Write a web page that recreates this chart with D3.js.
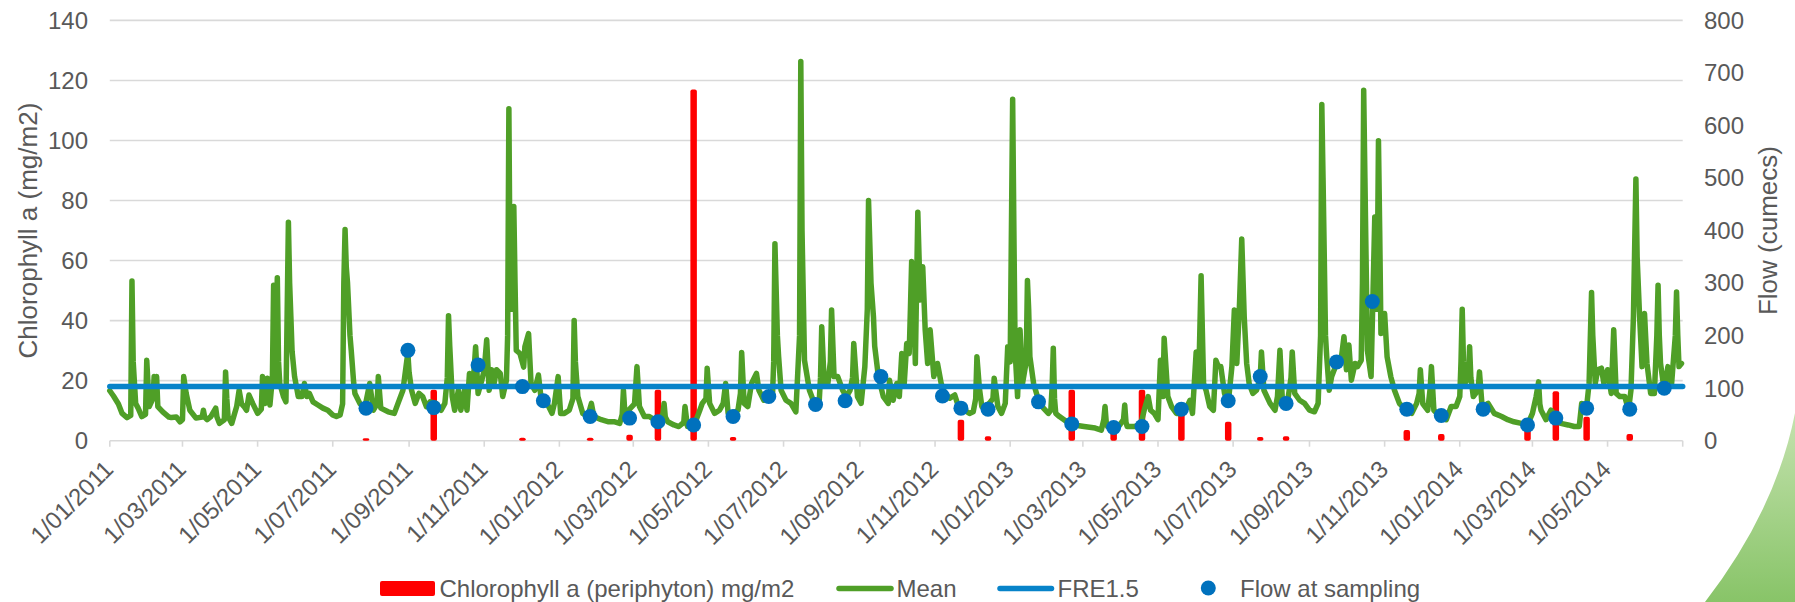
<!DOCTYPE html>
<html>
<head>
<meta charset="utf-8">
<script src="https://cdn.jsdelivr.net/npm/d3@7"></script>
<style>
  body { margin: 0; background: #fff; }
  svg { display: block; }
  text { font-family: "Liberation Sans", Arial, sans-serif; fill: #595959; }
</style>
</head>
<body>
<svg id="chart" width="1795" height="602"></svg>
<script>
// Daily mean flow record, as days since 1/01/2011 and flow (cumecs)
const recordStart = "2011-01-01";
const recordEnd = "2014-07-01";
const meanDay = [0,3,7,10,14,17,18,19,21,23,26,29,30,32,35,36,37,38,39,43,48,50,54,57,59,60,62,65,70,75,76,77,79,82,86,87,89,93,94,95,96,99,103,105,107,109,111,113,116,120,123,124,126,128,130,132,133,134,136,137,138,141,143,145,146,147,148,150,153,156,158,160,162,165,169,173,177,181,184,187,189,190,191,192,193,195,196,198,199,203,207,211,214,217,218,220,226,231,234,238,241,242,243,245,248,251,254,257,260,265,269,272,274,275,276,278,280,283,285,288,290,292,295,297,299,302,304,306,308,310,312,314,317,319,322,323,324,325,326,327,328,329,330,333,336,337,340,342,345,348,350,355,359,361,364,366,369,373,376,377,378,380,384,388,391,393,399,405,410,414,416,417,418,420,422,426,428,430,434,438,442,446,449,450,451,453,458,462,466,467,469,475,479,481,484,485,487,491,495,498,500,502,506,510,512,513,515,518,521,525,527,531,534,538,539,540,542,543,545,549,553,557,560,561,562,564,568,572,576,577,578,580,583,585,586,588,591,595,598,601,603,604,607,610,613,615,616,618,620,621,624,628,632,633,636,639,641,643,645,647,649,650,651,653,654,656,657,658,660,662,664,666,669,672,675,678,682,686,689,694,698,701,703,704,706,708,710,714,717,718,721,724,727,729,731,733,734,735,737,739,741,744,745,746,747,750,754,758,762,764,765,766,767,768,771,777,783,791,800,805,807,808,809,810,816,820,823,824,825,826,832,837,840,843,845,848,851,853,855,856,859,862,866,870,874,877,879,882,884,886,888,890,893,896,898,900,902,905,908,911,913,915,917,919,921,923,925,928,931,934,935,937,942,946,948,950,952,956,959,960,962,966,970,974,978,981,983,984,985,987,988,990,992,996,1000,1002,1004,1006,1008,1011,1013,1016,1017,1018,1019,1021,1024,1027,1028,1029,1030,1031,1032,1035,1037,1040,1043,1047,1051,1057,1061,1063,1064,1066,1070,1072,1073,1075,1080,1085,1089,1093,1096,1097,1098,1099,1100,1103,1104,1105,1107,1109,1111,1112,1114,1115,1119,1124,1130,1135,1140,1146,1151,1155,1158,1160,1161,1162,1166,1170,1174,1178,1184,1189,1193,1195,1199,1201,1203,1204,1206,1208,1211,1213,1216,1219,1221,1223,1226,1230,1233,1235,1237,1239,1240,1242,1244,1246,1248,1251,1254,1256,1257,1258,1259,1262,1265,1268,1271,1272,1273,1274,1276];
const meanFlow = [95,85,70,52,44,48,304,150,71,62,46,50,153,65,80,122,90,122,65,55,45,44,45,36,40,122,90,58,43,45,58,45,40,46,62,45,33,40,131,80,46,33,65,96,70,65,58,87,71,52,60,122,71,119,68,120,296,109,310,150,109,84,74,416,300,236,170,122,84,84,109,84,90,74,68,62,58,49,46,49,70,300,402,330,300,200,172,110,90,71,62,109,58,70,122,62,55,52,71,96,150,166,130,96,71,90,84,65,74,71,58,71,120,238,180,84,58,96,58,96,58,128,109,179,90,115,135,192,96,135,109,135,128,84,115,200,632,300,250,380,446,300,172,166,140,179,204,109,96,125,84,71,52,71,122,52,52,58,80,229,150,84,52,46,71,46,40,36,36,33,50,96,60,46,60,70,141,65,46,46,40,40,50,71,45,36,30,27,35,65,27,33,58,71,80,138,71,52,58,71,109,52,52,58,90,168,71,65,109,128,96,77,84,84,150,375,200,160,96,77,71,55,200,722,400,153,96,71,77,120,217,109,109,150,249,122,122,96,84,96,120,185,84,71,141,250,457,300,236,180,122,84,71,115,77,109,84,166,109,185,166,250,341,236,147,435,350,268,331,211,147,211,122,147,109,90,81,87,65,58,52,55,80,160,100,65,65,71,80,119,65,52,71,179,150,650,400,172,84,211,109,150,305,250,160,109,77,62,52,58,100,176,80,52,46,36,30,27,24,20,40,65,35,27,27,30,40,68,35,27,27,30,60,84,58,52,40,153,84,195,84,65,52,52,62,77,52,169,109,314,109,96,65,58,153,141,141,90,71,141,249,147,249,384,236,147,109,90,96,120,169,96,71,58,84,172,77,71,120,169,90,77,71,58,55,71,200,640,500,200,160,96,122,147,160,198,135,182,115,147,141,153,300,667,500,172,122,426,250,300,571,400,204,242,160,122,96,71,62,52,71,90,135,70,58,100,141,58,46,40,65,65,84,150,250,150,109,120,179,120,84,90,100,131,70,65,71,52,46,40,36,33,30,52,84,112,70,58,40,58,46,33,30,27,27,71,65,109,282,200,109,135,138,109,135,90,211,90,84,84,58,96,236,498,350,236,141,242,147,90,90,200,296,200,147,96,141,109,200,283,200,141,147];

// Periphyton sampling visits
const sampleDates = ["2011-07-28","2011-08-31","2011-09-21","2011-10-27","2011-12-02","2011-12-19","2012-01-26","2012-02-27","2012-03-21","2012-04-19","2012-05-21","2012-06-19","2012-07-27","2012-08-20","2012-09-18","2012-11-07","2012-11-22","2012-12-14","2013-01-24","2013-02-20","2013-03-26","2013-04-18","2013-05-20","2013-06-27","2013-07-23","2013-08-13","2013-09-23","2013-10-22","2013-11-19","2013-12-17","2014-01-20","2014-02-25","2014-03-20","2014-04-14","2014-05-19","2014-06-16"];
const sampleFlow = [62,172,63,144,103,76,46,43,36,30,46,84,69,76,122,85,62,60,74,32,25,27,60,76,122,71,150,265,60,48,60,30,43,62,60,100];
const chlorophyll = [0.8,null,17,null,1,null,1,2,17,117,1.2,null,null,null,null,null,7,1.5,null,17,5,17,10,6.3,1.2,1.5,null,null,3.6,2.2,null,5,16.5,8,2.2,null];

// Flow threshold (FRE1.5), cumecs
const fre15 = 103;

const leftTicks = [0,20,40,60,80,100,120,140];
const rightTicks = [0,100,200,300,400,500,600,700,800];
const leftTitle = "Chlorophyll a (mg/m2)";
const rightTitle = "Flow (cumecs)";
const seriesNames = ["Chlorophyll a (periphyton) mg/m2", "Mean", "FRE1.5", "Flow at sampling"];

const colors = { chl: "#ff0000", mean: "#4f9f27", fre: "#0783c9", dot: "#0071bd", grid: "#d9d9d9" };
const fontSize = 24;

const svg = d3.select("#chart");
const plot = { left: 109.8, right: 1682.7, top: 20.4, bottom: 440.7 };

const parse = d3.timeParse("%Y-%m-%d");
const t0 = parse(recordStart), t1 = parse(recordEnd);

const x = d3.scaleTime().domain([t0, t1]).range([plot.left, plot.right]);
const yL = d3.scaleLinear().domain([0, 140]).range([plot.bottom, plot.top]);
const yR = d3.scaleLinear().domain([0, 800]).range([plot.bottom, plot.top]);

// decorative wedge, bottom-right corner
const defs = svg.append("defs");
const grad = defs.append("linearGradient").attr("id", "wedge").attr("x1", 0).attr("y1", 0).attr("x2", 0).attr("y2", 1);
grad.append("stop").attr("offset", "0%").attr("stop-color", "#c4e2ae");
grad.append("stop").attr("offset", "100%").attr("stop-color", "#88c468");
svg.append("path")
  .attr("d", "M1705,602 Q1776,510 1795,413 L1795,602 Z")
  .attr("fill", "url(#wedge)");

// horizontal gridlines
svg.append("g").selectAll("line").data(leftTicks).join("line")
  .attr("x1", plot.left).attr("x2", plot.right)
  .attr("y1", d => yL(d)).attr("y2", d => yL(d))
  .attr("stroke", colors.grid).attr("stroke-width", 1.6);

// left axis labels
svg.append("g").selectAll("text").data(leftTicks).join("text")
  .attr("x", 88).attr("y", d => yL(d)).attr("dy", "0.35em")
  .attr("text-anchor", "end").attr("font-size", fontSize)
  .text(d => d);

// right axis labels
svg.append("g").selectAll("text").data(rightTicks).join("text")
  .attr("x", 1704).attr("y", d => yR(d)).attr("dy", "0.35em")
  .attr("text-anchor", "start").attr("font-size", fontSize)
  .text(d => d);

// x axis ticks and labels
const xTicks = d3.timeMonth.every(2).range(t0, d3.timeMonth.offset(t1, -1));
const fmt = d3.timeFormat("%-d/%m/%Y");
const tickG = svg.append("g");
tickG.selectAll("line").data(xTicks.concat([t1])).join("line")
  .attr("x1", d => x(d)).attr("x2", d => x(d))
  .attr("y1", plot.bottom).attr("y2", plot.bottom + 6)
  .attr("stroke", colors.grid).attr("stroke-width", 1.6);
tickG.selectAll("text").data(xTicks).join("text")
  .attr("transform", d => `translate(${x(d) + 5},${plot.bottom + 30}) rotate(-45)`)
  .attr("text-anchor", "end").attr("font-size", fontSize)
  .text(d => fmt(d));

// axis titles
svg.append("text")
  .attr("transform", `translate(28,${(plot.top + plot.bottom) / 2}) rotate(-90)`)
  .attr("text-anchor", "middle").attr("dominant-baseline", "central")
  .attr("font-size", 26).text(leftTitle);
svg.append("text")
  .attr("transform", `translate(1768,${(plot.top + plot.bottom) / 2}) rotate(-90)`)
  .attr("text-anchor", "middle").attr("dominant-baseline", "central")
  .attr("font-size", 26).text(rightTitle);

const samples = sampleDates.map((d, i) => ({ date: parse(d), flow: sampleFlow[i], chl: chlorophyll[i] }));

// chlorophyll columns (left axis)
const barW = 6.5;
svg.append("g").selectAll("rect").data(samples.filter(d => d.chl != null)).join("rect")
  .attr("x", d => x(d.date) - barW / 2).attr("width", barW)
  .attr("y", d => yL(d.chl)).attr("height", d => yL(0) - yL(d.chl))
  .attr("rx", 2).attr("fill", colors.chl);

// mean daily flow (right axis)
const meanData = meanDay.map((d, i) => ({ date: d3.timeDay.offset(t0, d), v: meanFlow[i] }));
svg.append("path")
  .datum(meanData)
  .attr("d", d3.line().x(d => x(d.date)).y(d => yR(d.v)))
  .attr("fill", "none").attr("stroke", colors.mean).attr("stroke-width", 5.5)
  .attr("stroke-linejoin", "round").attr("stroke-linecap", "round");

// FRE1.5 threshold
svg.append("line")
  .attr("x1", x(t0)).attr("x2", x(t1))
  .attr("y1", yR(fre15)).attr("y2", yR(fre15))
  .attr("stroke", colors.fre).attr("stroke-width", 5.5).attr("stroke-linecap", "round");

// flow at sampling
svg.append("g").selectAll("circle").data(samples).join("circle")
  .attr("cx", d => x(d.date)).attr("cy", d => yR(d.flow)).attr("r", 7.5)
  .attr("fill", colors.dot);

// legend
const lg = svg.append("g");
const ly = 588.5;
lg.append("rect").attr("x", 380).attr("y", ly - 7.5).attr("width", 55).attr("height", 15).attr("rx", 2).attr("fill", colors.chl);
lg.append("text").attr("x", 439.5).attr("y", ly).attr("dy", "0.35em").attr("font-size", fontSize).text(seriesNames[0]);
lg.append("line").attr("x1", 839).attr("x2", 891).attr("y1", ly).attr("y2", ly)
  .attr("stroke", colors.mean).attr("stroke-width", 5.5).attr("stroke-linecap", "round");
lg.append("text").attr("x", 896.5).attr("y", ly).attr("dy", "0.35em").attr("font-size", fontSize).text(seriesNames[1]);
lg.append("line").attr("x1", 1000).attr("x2", 1051.5).attr("y1", ly).attr("y2", ly)
  .attr("stroke", colors.fre).attr("stroke-width", 5.5).attr("stroke-linecap", "round");
lg.append("text").attr("x", 1057.5).attr("y", ly).attr("dy", "0.35em").attr("font-size", fontSize).text(seriesNames[2]);
lg.append("circle").attr("cx", 1208.3).attr("cy", ly - 0.5).attr("r", 7.5).attr("fill", colors.dot);
lg.append("text").attr("x", 1240).attr("y", ly).attr("dy", "0.35em").attr("font-size", fontSize).text(seriesNames[3]);
</script>
</body>
</html>
